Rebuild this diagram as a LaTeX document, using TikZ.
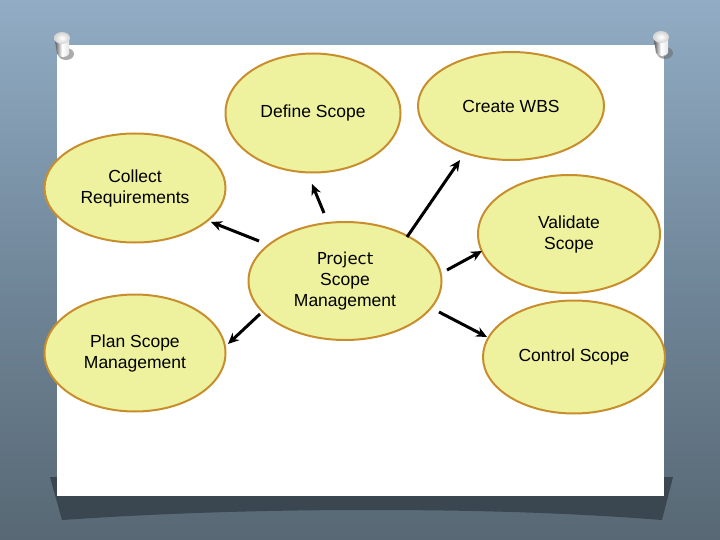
\documentclass[tikz,border=0pt]{standalone}
\usepackage{fontspec}
\setmainfont{Liberation Sans}
\newfontfamily\psmfont{DejaVu Sans}
\usetikzlibrary{shapes.geometric,arrows.meta}
\definecolor{bgtop}{RGB}{145,172,196}
\definecolor{bgmid}{RGB}{110,132,150}
\definecolor{bgbot}{RGB}{88,104,116}
\definecolor{shadowc}{RGB}{58,70,80}
\definecolor{bubble}{RGB}{238,242,158}
\definecolor{rim}{RGB}{200,142,45}
\tikzset{
  bub/.style={ellipse, draw=rim, line width=2pt, fill=bubble, inner sep=0pt,
    align=center, font=\fontsize{17.5}{21}\selectfont},
  arr/.style={line width=3pt, -{Stealth[length=11pt,width=10pt]}},
}
\begin{document}
\begin{tikzpicture}[x=1pt,y=-1pt]
\useasboundingbox (0,0) rectangle (720,540);
% background
\shade[top color=bgtop, bottom color=bgmid] (0,0) rectangle (720,300);
\shade[top color=bgmid, bottom color=bgbot] (0,300) rectangle (720,540);
% shadow under paper
\fill[shadowc] (50,477) -- (673,477) -- (662,520)
  .. controls (560,512) and (460,510) .. (370,510)
  .. controls (250,510) and (150,514) .. (62,520) -- cycle;
% paper
\fill[white] (57,45) rectangle (664,496);
% pins
\foreach \px/\py in {62/38, 661/37}{
  \fill[black!60,opacity=0.55] (\px+4,\py+16) ellipse [x radius=8, y radius=6];
  \shade[left color=gray!70!black, right color=gray!20, middle color=white]
    (\px-7,\py+2) -- (\px-5,\py+16) .. controls (\px-3,\py+20) and (\px+5,\py+20) .. (\px+7,\py+16) -- (\px+7,\py+2) -- cycle;
  \shade[inner color=white, outer color=gray!35] (\px,\py) ellipse [x radius=8, y radius=6];
}
% nodes
\node[bub, minimum width=175pt, minimum height=119pt] (define) at (313,113) {\raisebox{-3pt}{Define Scope}};
\node[bub, minimum width=186pt, minimum height=108pt] (wbs) at (511,106) {Create WBS};
\node[bub, minimum width=181pt, minimum height=109pt] (collect) at (135,188) {Collect\\Requirements};
\node[bub, minimum width=193pt, minimum height=118pt] (psm) at (345,281)
  {\psmfont\fontsize{16.5}{21.5}\selectfont Project\\Scope\\Management};
\node[bub, minimum width=182pt, minimum height=118pt] (validate) at (569,234) {Validate\\Scope};
\node[bub, minimum width=181pt, minimum height=117pt] (plan) at (135,353) {Plan Scope\\Management};
\node[bub, minimum width=182pt, minimum height=113pt] (control) at (574,357) {Control Scope};
% arrow ends
\coordinate (t1) at (324,213); \coordinate (h1) at (312,184);
\coordinate (t2) at (259,241); \coordinate (h2) at (211,222);
\coordinate (t3) at (407,237); \coordinate (h3) at (460,160);
\coordinate (t4) at (447,270); \coordinate (h4) at (482,251);
\coordinate (t5) at (439,312); \coordinate (h5) at (487,337);
\coordinate (t6) at (260,314); \coordinate (h6) at (228,344);
\draw[arr] (t1) -- (h1);
\draw[arr] (t2) -- (h2);
\draw[arr] (t3) -- (h3);
\draw[arr] (t4) -- (h4);
\draw[arr] (t5) -- (h5);
\draw[arr] (t6) -- (h6);
\end{tikzpicture}
\end{document}
